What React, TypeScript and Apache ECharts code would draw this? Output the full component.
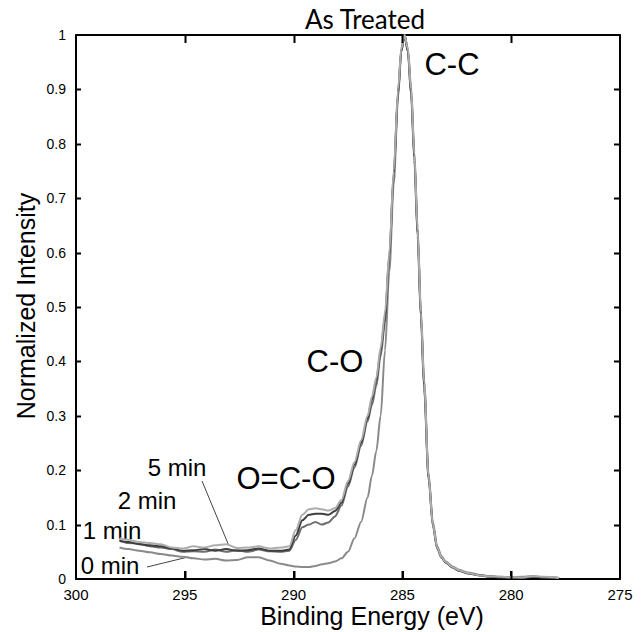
import React, { useEffect, useRef } from "react";
import * as echarts from "echarts";

const energies = [
  298.0, 297.6, 297.1, 296.6, 296.1, 295.6, 295.1, 294.6, 294.1, 293.6,
  293.1, 292.6, 292.1, 291.6, 291.1, 290.6, 290.2, 289.9, 289.6, 289.3,
  289.0, 288.7, 288.4, 288.1, 287.8, 287.5, 287.2, 286.9, 286.6, 286.4,
  286.2, 286.0, 285.8, 285.6, 285.4, 285.2, 285.05, 284.9, 284.75, 284.6,
  284.45, 284.3, 284.15, 284.0, 283.8, 283.6, 283.4, 283.2, 283.0, 282.7,
  282.4, 282.0, 281.5, 281.0, 280.5, 280.0, 279.5, 279.0, 278.5, 277.8,
];

const min0 = [
  0.058, 0.055, 0.052, 0.049, 0.046, 0.043, 0.041, 0.038, 0.036, 0.037,
  0.034, 0.035, 0.040, 0.040, 0.034, 0.028, 0.025, 0.023, 0.022, 0.022,
  0.024, 0.027, 0.029, 0.032, 0.038, 0.050, 0.075, 0.105, 0.150, 0.190,
  0.235, 0.300, 0.420, 0.565, 0.725, 0.885, 0.970, 1.0, 0.975, 0.905,
  0.785, 0.645, 0.495, 0.365, 0.195, 0.105, 0.060, 0.042, 0.032, 0.023,
  0.017, 0.012, 0.008, 0.005, 0.004, 0.003, 0.004, 0.005, 0.003, 0.002,
];

const min1 = [
  0.072, 0.066, 0.065, 0.060, 0.058, 0.055, 0.050, 0.051, 0.050, 0.054,
  0.050, 0.053, 0.050, 0.054, 0.051, 0.050, 0.052, 0.072, 0.095, 0.100,
  0.105, 0.100, 0.104, 0.115, 0.135, 0.170, 0.205, 0.245, 0.290, 0.320,
  0.355, 0.410, 0.470, 0.590, 0.740, 0.890, 0.975, 1.0, 0.970, 0.895,
  0.775, 0.635, 0.485, 0.355, 0.190, 0.100, 0.057, 0.040, 0.030, 0.022,
  0.015, 0.011, 0.007, 0.004, 0.003, 0.003, 0.002, 0.004, 0.003, 0.002,
];

const min2 = [
  0.070, 0.068, 0.064, 0.062, 0.060, 0.056, 0.052, 0.053, 0.055, 0.052,
  0.055, 0.052, 0.053, 0.056, 0.052, 0.052, 0.054, 0.080, 0.108, 0.118,
  0.120, 0.120, 0.118, 0.125, 0.140, 0.175, 0.210, 0.250, 0.295, 0.330,
  0.365, 0.420, 0.480, 0.595, 0.745, 0.895, 0.970, 1.0, 0.970, 0.890,
  0.770, 0.630, 0.480, 0.350, 0.185, 0.098, 0.056, 0.039, 0.030, 0.021,
  0.015, 0.010, 0.007, 0.005, 0.003, 0.002, 0.003, 0.004, 0.003, 0.002,
];

const min5 = [
  0.075, 0.072, 0.068, 0.066, 0.064, 0.058, 0.056, 0.060, 0.058, 0.062,
  0.064, 0.057, 0.058, 0.060, 0.056, 0.058, 0.060, 0.090, 0.118, 0.128,
  0.130, 0.128, 0.126, 0.130, 0.145, 0.180, 0.215, 0.255, 0.300, 0.335,
  0.370, 0.425, 0.490, 0.600, 0.750, 0.900, 0.975, 1.0, 0.975, 0.900,
  0.780, 0.640, 0.490, 0.360, 0.190, 0.100, 0.058, 0.040, 0.031, 0.022,
  0.016, 0.011, 0.007, 0.005, 0.004, 0.003, 0.003, 0.005, 0.004, 0.002,
];

const seriesNames = ["0 min", "1 min", "2 min", "5 min"];
const seriesValues = [min0, min1, min2, min5];
const seriesColors = ["#8a8a8a", "#6e6e6e", "#3e3e3e", "#adadad"];

const xTickValues = [295, 290, 285, 280];
const yTickValues = [0.1, 0.2, 0.3, 0.4, 0.5, 0.6, 0.7, 0.8, 0.9];

const FONT = "Liberation Sans, Arial, Helvetica, sans-serif";

// grid geometry (layout only)
const W = 643;
const H = 632;
const G_LEFT = 76;
const G_RIGHT = 23;
const G_TOP = 35;
const G_BOTTOM = 53;
const X_MIN = 275;
const X_MAX = 300;
const Y_MIN = 0;
const Y_MAX = 1;

export default function App() {
  const ref = useRef<HTMLDivElement>(null);

  useEffect(() => {
    const chart = echarts.init(ref.current!, null, { renderer: "svg" });

    const line = () => ({ show: true, onZero: false, lineStyle: { color: "#000", width: 2 } });

    const px0 = G_LEFT;
    const px1 = W - G_RIGHT;
    const py0 = H - G_BOTTOM;
    const py1 = G_TOP;
    // inverse x axis: X_MAX on the left
    const xPix = (v: number) => px0 + ((X_MAX - v) / (X_MAX - X_MIN)) * (px1 - px0);
    const yPix = (v: number) => py0 - ((v - Y_MIN) / (Y_MAX - Y_MIN)) * (py0 - py1);

    const tickGraphics: any[] = [];
    xTickValues.forEach((v) => {
      const x = Math.round(xPix(v)) + 0.5;
      tickGraphics.push({ type: "line", z: 10, shape: { x1: x, y1: py0, x2: x, y2: py0 - 8 }, style: { stroke: "#000", lineWidth: 2 } });
      tickGraphics.push({ type: "line", z: 10, shape: { x1: x, y1: py1, x2: x, y2: py1 + 8 }, style: { stroke: "#000", lineWidth: 2 } });
    });
    yTickValues.forEach((v) => {
      const y = Math.round(yPix(v)) + 0.5;
      tickGraphics.push({ type: "line", z: 10, shape: { x1: px0, y1: y, x2: px0 + 5, y2: y }, style: { stroke: "#000", lineWidth: 2 } });
      tickGraphics.push({ type: "line", z: 10, shape: { x1: px1, y1: y, x2: px1 - 6, y2: y }, style: { stroke: "#000", lineWidth: 2 } });
    });

    const textGraphics: any[] = [
      {
        type: "text",
        style: {
          x: 365,
          y: 19,
          text: "As Treated",
          fill: "#000",
          font: "26px Lato, 'Open Sans', sans-serif",
          align: "center",
          verticalAlign: "middle",
        },
      },
      {
        type: "text",
        style: {
          x: 372,
          y: 616,
          text: "Binding Energy (eV)",
          fill: "#000",
          font: `25px ${FONT}`,
          align: "center",
          verticalAlign: "middle",
        },
      },
      {
        type: "text",
        x: 26,
        y: 306,
        rotation: Math.PI / 2,
        style: {
          x: 0,
          y: 0,
          text: "Normalized Intensity",
          fill: "#000",
          font: `25px ${FONT}`,
          align: "center",
          verticalAlign: "middle",
        },
      },
      { type: "text", style: { x: 452, y: 64, text: "C-C", fill: "#000", font: `31px ${FONT}`, align: "center", verticalAlign: "middle" } },
      { type: "text", style: { x: 335, y: 361, text: "C-O", fill: "#000", font: `31px ${FONT}`, align: "center", verticalAlign: "middle" } },
      { type: "text", style: { x: 286, y: 478, text: "O=C-O", fill: "#000", font: `31px ${FONT}`, align: "center", verticalAlign: "middle" } },
      { type: "text", style: { x: 177, y: 467, text: "5 min", fill: "#000", font: `24px ${FONT}`, align: "center", verticalAlign: "middle" } },
      { type: "text", style: { x: 147, y: 500, text: "2 min", fill: "#000", font: `24px ${FONT}`, align: "center", verticalAlign: "middle" } },
      { type: "text", style: { x: 112, y: 530, text: "1 min", fill: "#000", font: `24px ${FONT}`, align: "center", verticalAlign: "middle" } },
      { type: "text", style: { x: 110, y: 565, text: "0 min", fill: "#000", font: `24px ${FONT}`, align: "center", verticalAlign: "middle" } },
      { type: "line", shape: { x1: 202, y1: 481, x2: 229, y2: 546 }, style: { stroke: "#444", lineWidth: 1 } },
      { type: "line", shape: { x1: 147, y1: 567, x2: 188, y2: 557 }, style: { stroke: "#444", lineWidth: 1 } },
    ];

    chart.setOption({
      animation: false,
      backgroundColor: "#fff",
      grid: { left: G_LEFT, right: G_RIGHT, top: G_TOP, bottom: G_BOTTOM, containLabel: false },
      xAxis: [
        {
          type: "value",
          position: "bottom",
          min: X_MIN,
          max: X_MAX,
          interval: 5,
          inverse: true,
          axisLine: line(),
          axisTick: { show: true, inside: true, length: 8, lineStyle: { color: "#000", width: 2 } },
          splitLine: { show: false },
          axisLabel: { show: true, color: "#000", fontSize: 15, fontFamily: FONT, margin: 8 },
        },
        {
          type: "value",
          position: "top",
          min: X_MIN,
          max: X_MAX,
          interval: 5,
          inverse: true,
          axisLine: line(),
          axisTick: { show: false },
          splitLine: { show: false },
          axisLabel: { show: false },
        },
      ],
      yAxis: [
        {
          type: "value",
          position: "left",
          min: Y_MIN,
          max: Y_MAX,
          interval: 0.1,
          axisLine: line(),
          axisTick: { show: false },
          splitLine: { show: false },
          axisLabel: { show: true, color: "#000", fontSize: 14, fontFamily: FONT, margin: 10 },
        },
        {
          type: "value",
          position: "right",
          min: Y_MIN,
          max: Y_MAX,
          interval: 0.1,
          axisLine: line(),
          axisTick: { show: false },
          splitLine: { show: false },
          axisLabel: { show: false },
        },
      ],
      series: seriesNames.map((name, i) => ({
        name,
        type: "line",
        xAxisIndex: 0,
        yAxisIndex: 0,
        data: energies.map((e, j) => [e, seriesValues[i][j]]),
        showSymbol: false,
        smooth: 0.3,
        smoothMonotone: "x",
        lineStyle: { color: seriesColors[i], width: 2 },
        itemStyle: { color: seriesColors[i] },
      })),
      graphic: [...textGraphics, ...tickGraphics],
    });

    return () => chart.dispose();
  }, []);

  return (
    <div
      ref={ref}
      style={{ position: "fixed", left: 0, top: 0, width: W, height: H }}
    />
  );
}
